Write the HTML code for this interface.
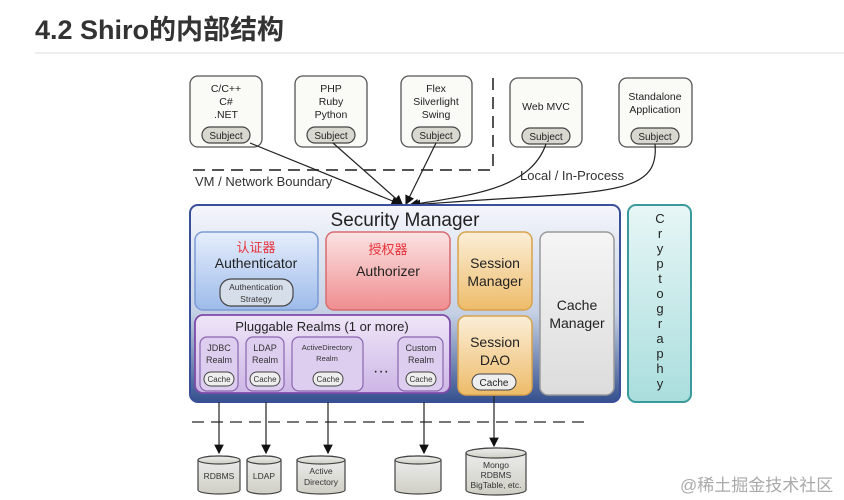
<!DOCTYPE html>
<html><head><meta charset="utf-8"><style>
html,body{margin:0;padding:0;background:#fff;width:844px;height:500px;overflow:hidden}
svg text{font-family:"Liberation Sans","Noto Sans CJK SC",sans-serif}
</style></head><body>
<svg width="844" height="500" xmlns="http://www.w3.org/2000/svg">
<defs>
<linearGradient id="sm" x1="0" y1="0" x2="0" y2="1"><stop offset="0" stop-color="#f4f6fb"/><stop offset="0.55" stop-color="#c5d0e4"/><stop offset="1" stop-color="#34508e"/></linearGradient>
<linearGradient id="bl" x1="0" y1="0" x2="0" y2="1"><stop offset="0" stop-color="#e6eefc"/><stop offset="1" stop-color="#9dbbea"/></linearGradient>
<linearGradient id="rd" x1="0" y1="0" x2="0" y2="1"><stop offset="0" stop-color="#fbe3e3"/><stop offset="1" stop-color="#ef8d8f"/></linearGradient>
<linearGradient id="or" x1="0" y1="0" x2="0" y2="1"><stop offset="0" stop-color="#fbeed7"/><stop offset="1" stop-color="#eebc6a"/></linearGradient>
<linearGradient id="gr" x1="0" y1="0" x2="0" y2="1"><stop offset="0" stop-color="#f5f5f5"/><stop offset="1" stop-color="#dcdcdc"/></linearGradient>
<linearGradient id="pu" x1="0" y1="0" x2="0" y2="1"><stop offset="0" stop-color="#efe6f8"/><stop offset="1" stop-color="#cdb6e6"/></linearGradient>
<linearGradient id="te" x1="0" y1="0" x2="0" y2="1"><stop offset="0" stop-color="#e7f6f6"/><stop offset="1" stop-color="#a9dedd"/></linearGradient>
<linearGradient id="cy" x1="0" y1="0" x2="0" y2="1"><stop offset="0" stop-color="#eee"/><stop offset="1" stop-color="#cfcfc5"/></linearGradient>
<marker id="ar" markerWidth="8" markerHeight="8" refX="7" refY="4" orient="auto"><path d="M0,0 L8,4 L0,8 z" fill="#111"/></marker>
</defs>
<text x="35" y="39" font-size="27" font-weight="bold" fill="#333">4.2 Shiro的内部结构</text>
<rect x="35" y="52" width="809" height="2" fill="#eee"/>

<g stroke="#555" stroke-width="1.3" fill="#fafaf6">
<rect x="190" y="76" width="72" height="71" rx="8"/>
<rect x="295" y="76" width="72" height="71" rx="8"/>
<rect x="401" y="76" width="71" height="71" rx="8"/>
<rect x="510" y="78" width="72" height="69" rx="8"/>
<rect x="619" y="78" width="73" height="69" rx="8"/>
</g>
<g font-size="10.5" fill="#222" text-anchor="middle">
<text x="226" y="92">C/C++</text><text x="226" y="105">C#</text><text x="226" y="118">.NET</text>
<text x="331" y="92">PHP</text><text x="331" y="105">Ruby</text><text x="331" y="118">Python</text>
<text x="436" y="92">Flex</text><text x="436" y="105">Silverlight</text><text x="436" y="118">Swing</text>
<text x="546" y="110">Web MVC</text>
<text x="655" y="100">Standalone</text><text x="655" y="113">Application</text>
</g>
<g stroke="#444" stroke-width="1.2" fill="#d8d8d0">
<rect x="202" y="127" width="48" height="16" rx="8"/>
<rect x="307" y="127" width="48" height="16" rx="8"/>
<rect x="412" y="127" width="48" height="16" rx="8"/>
<rect x="522" y="128" width="48" height="16" rx="8"/>
<rect x="631" y="128" width="48" height="16" rx="8"/>
</g>
<g font-size="10" fill="#222" text-anchor="middle">
<text x="226" y="139">Subject</text><text x="331" y="139">Subject</text><text x="436" y="139">Subject</text><text x="546" y="140">Subject</text><text x="655" y="140">Subject</text>
</g>
<path d="M493,78 V170 H193" stroke="#555" stroke-width="2" fill="none" stroke-dasharray="12,7"/>
<text x="195" y="186" font-size="13" fill="#333">VM / Network Boundary</text>
<text x="520" y="180" font-size="13" fill="#333">Local / In-Process</text>
<g stroke="#222" stroke-width="1.2" fill="none" marker-end="url(#ar)">
<line x1="250" y1="143" x2="400" y2="204"/>
<line x1="333" y1="143" x2="402" y2="204"/>
<line x1="436" y1="143" x2="406" y2="204"/>
<path d="M546,144 C530,190 470,195 410,205"/>
<path d="M655,144 C660,200 600,190 412,205"/>
</g>

<rect x="190" y="205" width="430" height="197" rx="8" fill="url(#sm)" stroke="#3a4f9a" stroke-width="2"/>
<text x="405" y="226" font-size="19" text-anchor="middle" fill="#222">Security Manager</text>
<rect x="195" y="232" width="123" height="78" rx="8" fill="url(#bl)" stroke="#7b9bd6" stroke-width="1.5"/>
<text x="256" y="252" font-size="13" fill="#e8323a" text-anchor="middle">认证器</text>
<text x="256" y="268" font-size="14" fill="#222" text-anchor="middle">Authenticator</text>
<rect x="220" y="279" width="73" height="27" rx="11" fill="#d6deea" stroke="#444" stroke-width="1.2"/>
<text x="256" y="290" font-size="8.5" fill="#333" text-anchor="middle">Authentication</text>
<text x="256" y="302" font-size="8.5" fill="#333" text-anchor="middle">Strategy</text>
<rect x="326" y="232" width="124" height="78" rx="8" fill="url(#rd)" stroke="#d86c6f" stroke-width="1.5"/>
<text x="388" y="254" font-size="13" fill="#e8323a" text-anchor="middle">授权器</text>
<text x="388" y="276" font-size="14" fill="#222" text-anchor="middle">Authorizer</text>
<rect x="458" y="232" width="74" height="78" rx="8" fill="url(#or)" stroke="#d8a24a" stroke-width="1.5"/>
<text x="495" y="268" font-size="14" fill="#222" text-anchor="middle">Session</text>
<text x="495" y="286" font-size="14" fill="#222" text-anchor="middle">Manager</text>
<rect x="458" y="316" width="74" height="79" rx="8" fill="url(#or)" stroke="#d8a24a" stroke-width="1.5"/>
<text x="495" y="347" font-size="14" fill="#222" text-anchor="middle">Session</text>
<text x="495" y="365" font-size="14" fill="#222" text-anchor="middle">DAO</text>
<rect x="472" y="374" width="44" height="16" rx="8" fill="#eee" stroke="#444"/>
<text x="494" y="386" font-size="10" fill="#222" text-anchor="middle">Cache</text>
<rect x="540" y="232" width="74" height="163" rx="8" fill="url(#gr)" stroke="#999" stroke-width="1.5"/>
<text x="577" y="310" font-size="14" fill="#222" text-anchor="middle">Cache</text>
<text x="577" y="328" font-size="14" fill="#222" text-anchor="middle">Manager</text>
<rect x="195" y="315" width="255" height="78" rx="8" fill="url(#pu)" stroke="#7d4ba8" stroke-width="1.8"/>
<text x="322" y="331" font-size="13" fill="#222" text-anchor="middle">Pluggable Realms (1 or more)</text>
<g stroke="#8a66b0" stroke-width="1.2" fill="#ddcdee">
<rect x="200" y="337" width="38" height="54" rx="7"/>
<rect x="246" y="337" width="38" height="54" rx="7"/>
<rect x="292" y="337" width="71" height="54" rx="7"/>
<rect x="398" y="337" width="45" height="54" rx="7"/>
</g>
<g font-size="9" fill="#333" text-anchor="middle">
<text x="219" y="351">JDBC</text><text x="219" y="363">Realm</text>
<text x="265" y="351">LDAP</text><text x="265" y="363">Realm</text>
<text x="327" y="350" font-size="7.5">ActiveDirectory</text><text x="327" y="361" font-size="7.5">Realm</text>
<text x="421" y="351">Custom</text><text x="421" y="363">Realm</text>
</g>
<g stroke="#444" fill="#eee">
<rect x="204" y="372" width="30" height="14" rx="7"/><rect x="250" y="372" width="30" height="14" rx="7"/>
<rect x="313" y="372" width="30" height="14" rx="7"/><rect x="406" y="372" width="30" height="14" rx="7"/>
</g>
<g font-size="8" fill="#333" text-anchor="middle">
<text x="219" y="382">Cache</text><text x="265" y="382">Cache</text><text x="328" y="382">Cache</text><text x="421" y="382">Cache</text>
</g>
<text x="381" y="376" font-size="16" fill="#222" text-anchor="middle">···</text>
<rect x="628" y="205" width="63" height="197" rx="8" fill="url(#te)" stroke="#3a9a9c" stroke-width="2"/>
<g font-size="13" fill="#222" text-anchor="middle">
<text x="660" y="223">C</text><text x="660" y="238">r</text><text x="660" y="253">y</text><text x="660" y="268">p</text><text x="660" y="283">t</text><text x="660" y="298">o</text><text x="660" y="313">g</text><text x="660" y="328">r</text><text x="660" y="343">a</text><text x="660" y="358">p</text><text x="660" y="373">h</text><text x="660" y="388">y</text>
</g>

<line x1="192" y1="422" x2="585" y2="422" stroke="#777" stroke-width="2" stroke-dasharray="12,7"/>
<g stroke="#222" stroke-width="1.2" marker-end="url(#ar)">
<line x1="219" y1="402" x2="219" y2="453"/>
<line x1="266" y1="402" x2="266" y2="453"/>
<line x1="328" y1="402" x2="328" y2="453"/>
<line x1="424" y1="402" x2="424" y2="453"/>
<line x1="494" y1="396" x2="494" y2="446"/>
</g>
<g stroke="#444" stroke-width="1.2" fill="url(#cy)">
<path d="M198,460 V490 A21,4 0 0 0 240,490 V460 A21,4 0 0 0 198,460 z"/><ellipse cx="219" cy="460" rx="21" ry="4"/>
<path d="M247,460 V490 A17,4 0 0 0 281,490 V460 A17,4 0 0 0 247,460 z"/><ellipse cx="264" cy="460" rx="17" ry="4"/>
<path d="M297,460 V490 A24,4 0 0 0 345,490 V460 A24,4 0 0 0 297,460 z"/><ellipse cx="321" cy="460" rx="24" ry="4"/>
<path d="M395,460 V490 A23,4 0 0 0 441,490 V460 A23,4 0 0 0 395,460 z"/><ellipse cx="418" cy="460" rx="23" ry="4"/>
<path d="M466,453 V490 A30,5 0 0 0 526,490 V453 A30,5 0 0 0 466,453 z"/><ellipse cx="496" cy="453" rx="30" ry="5"/>
</g>
<g font-size="8.5" fill="#333" text-anchor="middle">
<text x="219" y="479">RDBMS</text><text x="264" y="479">LDAP</text>
<text x="321" y="474">Active</text><text x="321" y="485">Directory</text>
<text x="496" y="468">Mongo</text><text x="496" y="478">RDBMS</text><text x="496" y="488">BigTable, etc.</text>
</g>
<text x="680" y="491" font-size="17" fill="#aaa">@稀土掘金技术社区</text>
</svg>
</body></html>
